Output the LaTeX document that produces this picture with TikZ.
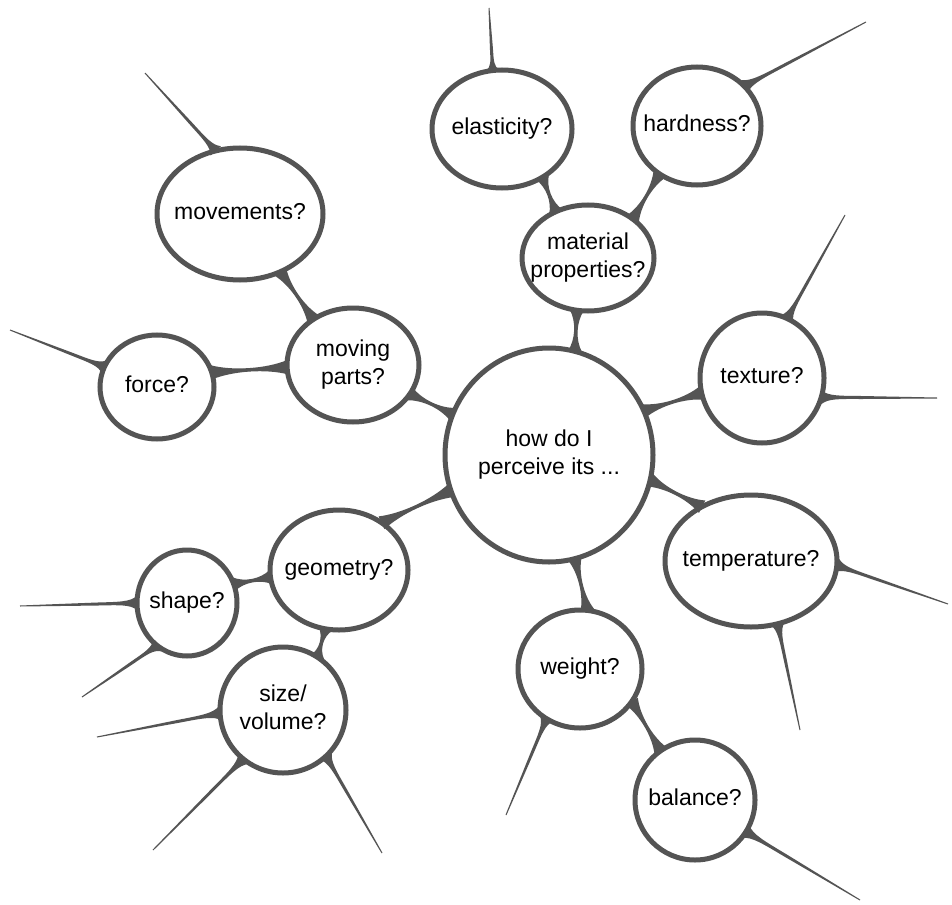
\documentclass[tikz,border=0pt]{standalone}
\usepackage{fontspec}
\setmainfont{Liberation Sans}
\usetikzlibrary{shapes.geometric,calc}
\definecolor{lc}{gray}{0.33}
\tikzset{
  bub/.style={ellipse,draw=lc,line width=5pt,inner sep=0pt,outer sep=0pt,
    font=\fontsize{23}{28}\selectfont},
  link/.style={draw=lc,line width=2.5pt},
}
\newcommand\lb[1]{\makebox[0pt]{\begin{tabular}{@{}c@{}}#1\end{tabular}}}
% flared connector between two node anchors
\newcommand\flare[2]{%
  \draw[link] #1 -- #2;
  \fill[lc] ($#1!7pt!90:#2$) .. controls ($#1!0.28!#2$) and ($#1!0.72!#2$) .. ($#2!7pt!-90:#1$)
    -- ($#2!7pt!90:#1$) .. controls ($#1!0.72!#2$) and ($#1!0.28!#2$) .. ($#1!7pt!-90:#2$) -- cycle;}
% tapered free line from a node anchor to a free end
\newcommand\taper[2]{%
  \fill[lc] ($#1!7pt!90:#2$) .. controls ($#1!0.06!#2!1.2pt!90:#2$) and ($#1!0.15!#2!1.6pt!90:#2$) .. ($#1!0.35!#2!1.5pt!90:#2$)
    -- ($#2!0.5pt!-90:#1$) -- ($#2!0.5pt!90:#1$)
    -- ($#1!0.35!#2!1.5pt!-90:#2$) .. controls ($#1!0.15!#2!1.6pt!-90:#2$) and ($#1!0.06!#2!1.2pt!-90:#2$) .. ($#1!7pt!-90:#2$) -- cycle;}
\begin{document}
\begin{tikzpicture}[x=1pt,y=-1pt]
\useasboundingbox[fill=white] (0,0) rectangle (952,904);
% nodes
\node[bub,minimum width=208pt,minimum height=214pt] (c) at (549,455) {\lb{how do I\\perceive its ...}};
\node[bub,minimum width=132pt,minimum height=106pt] (mat) at (588,258) {\lb{material\\properties?}};
\node[bub,minimum width=140pt,minimum height=118pt] (ela) at (502,129) {\lb{elasticity?}};
\node[bub,minimum width=128pt,minimum height=118pt] (har) at (697,126) {\lb{hardness?}};
\node[bub,minimum width=124pt,minimum height=130pt] (tex) at (762,378) {\lb{texture?}};
\node[bub,minimum width=172pt,minimum height=132pt] (tem) at (751,561) {\lb{temperature?}};
\node[bub,minimum width=124pt,minimum height=118pt] (wei) at (580,669) {\lb{weight?}};
\node[bub,minimum width=120pt,minimum height=120pt] (bal) at (695,800) {\lb{balance?}};
\node[bub,minimum width=138pt,minimum height=120pt] (geo) at (339,570) {\lb{geometry?}};
\node[bub,minimum width=100pt,minimum height=106pt] (sha) at (187,603) {\lb{shape?}};
\node[bub,minimum width=126pt,minimum height=126pt] (siz) at (283,710) {\lb{size/\\volume?}};
\node[bub,minimum width=132pt,minimum height=114pt] (mov) at (353,365) {\lb{moving\\parts?}};
\node[bub,minimum width=114pt,minimum height=104pt] (for) at (157,387) {\lb{force?}};
\node[bub,minimum width=166pt,minimum height=132pt] (mvt) at (240,214) {\lb{movements?}};
% free ends
\coordinate (e1) at (489,8);
\coordinate (e2) at (866,22);
\coordinate (e3) at (845,215);
\coordinate (e4) at (937,398);
\coordinate (e5) at (948,604);
\coordinate (e6) at (800,730);
\coordinate (e7) at (506,815);
\coordinate (e8) at (860,900);
\coordinate (e9) at (20,606);
\coordinate (e10) at (82,697);
\coordinate (e11) at (97,737);
\coordinate (e12) at (153,850);
\coordinate (e13) at (382,853);
\coordinate (e14) at (145,73);
\coordinate (e15) at (10,330);
% node-to-node links
\flare{(c.76)}{(mat.-102)}
\flare{(mat.125)}{(ela.-50)}
\flare{(mat.41)}{(har.-128)}
\flare{(c.25)}{(tex.194)}
\flare{(c.-14)}{(tem.132)}
\flare{(c.-76)}{(wei.83)}
\flare{(wei.-32)}{(bal.125)}
\flare{(c.200)}{(geo.48)}
\flare{(geo.186)}{(sha.22)}
\flare{(geo.257)}{(siz.57)}
\flare{(c.157)}{(mov.-27)}
\flare{(mov.182)}{(for.15)}
\flare{(mov.131)}{(mvt.-55)}
% free lines
\taper{(ela.99)}{(e1)}
\taper{(har.40)}{(e2)}
\taper{(tex.67)}{(e3)}
\taper{(tex.-18)}{(e4)}
\taper{(tem.-3)}{(e5)}
\taper{(tem.-67)}{(e6)}
\taper{(wei.236)}{(e7)}
\taper{(bal.-32)}{(e8)}
\taper{(sha.180)}{(e9)}
\taper{(sha.235)}{(e10)}
\taper{(siz.183)}{(e11)}
\taper{(siz.231)}{(e12)}
\taper{(siz.-47)}{(e13)}
\taper{(mvt.111)}{(e14)}
\taper{(for.159)}{(e15)}
\end{tikzpicture}
\end{document}
